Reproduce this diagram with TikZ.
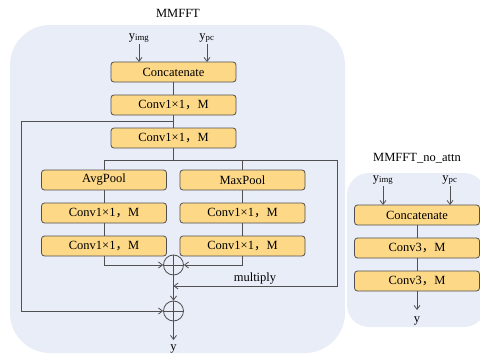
\documentclass[tikz,border=0pt]{standalone}
\usepackage{fontspec}
\setmainfont{Liberation Serif}
\newfontfamily\cjk{Noto Serif CJK SC}
\usetikzlibrary{arrows.meta}
\definecolor{panelbg}{HTML}{E9EDF8}
\definecolor{boxfill}{HTML}{FDD887}
\definecolor{linec}{HTML}{505050}
\tikzset{
  x=1pt,y=-1pt,
  blk/.style={draw=linec,fill=boxfill,rounded corners=3pt,line width=0.8pt,minimum width=125pt,minimum height=20pt,inner sep=0pt,font=\rmfamily\fontsize{12.5}{14}\selectfont},
  conn/.style={draw=linec,line width=0.8pt},
  arr/.style={conn,-{Straight Barb[length=4pt,width=6pt]}},
  opl/.style={circle,draw=linec,line width=0.8pt,minimum size=20pt,inner sep=0pt},
  lab/.style={font=\rmfamily\fontsize{12.5}{14}\selectfont,inner sep=1pt},
}
\newcommand{\cv}[1]{#1{\fontspec{Noto Sans CJK SC}，}M}
\begin{document}
\begin{tikzpicture}
\useasboundingbox (0,0) rectangle (480,356);
\fill[panelbg,rounded corners=40pt] (10,25) rectangle (345,353);
\fill[panelbg,rounded corners=22pt] (347,173) rectangle (486,327);
\node[lab] (t1) at (178,13) {MMFFT};
\node[lab] (t2) at (417,158) {MMFFT\_no\_attn};
% left panel
\node[blk] (cat) at (173.5,72) {Concatenate};
\node[blk] (c1) at (173.5,105) {\cv{Conv1×1}};
\node[blk] (c2) at (173.5,138) {\cv{Conv1×1}};
\node[blk] (avg) at (104,180) {AvgPool};
\node[blk] (max) at (242.5,180) {MaxPool};
\node[blk] (a1) at (104,213) {\cv{Conv1×1}};
\node[blk] (m1) at (242.5,213) {\cv{Conv1×1}};
\node[blk] (a2) at (104,246) {\cv{Conv1×1}};
\node[blk] (m2) at (242.5,246) {\cv{Conv1×1}};
\node[opl] (p1) at (173.5,265) {};
\node[opl] (p2) at (173.5,311) {};
\draw[conn] (p1.north)--(p1.south) (p1.west)--(p1.east);
\draw[conn] (p2.north)--(p2.south) (p2.west)--(p2.east);
\node[lab] (yi) at (139,38) {y\textsubscript{img}};
\node[lab] (yp) at (207,38) {y\textsubscript{pc}};
\node[lab] (y) at (173.5,349) {y};
\node[lab] (mul) at (255,279) {multiply};
\coordinate (yiE) at (139,62);
\coordinate (ypE) at (207,62);
\draw[arr] (yi.south) -- (yiE);
\draw[arr] (yp.south) -- (ypE);
\draw[conn] (cat) -- (c1);
\draw[conn] (c1) -- (c2);
\draw[arr] (173.5,121) -- (21,121) -- (21,311) -- (p2.west);
\draw[conn] (c2.south) -- (173.5,160);
\draw[conn] (104,170) -- (104,160) -- (337,160) -- (337,286) -- (180,286);
\draw[arr] (337,286) -- (173.5,286);
\draw[conn] (242.5,160) -- (max.north);
\draw[conn] (avg) -- (a1);
\draw[conn] (a1) -- (a2);
\draw[conn] (max) -- (m1);
\draw[conn] (m1) -- (m2);
\draw[arr] (a2.south) -- (104,265) -- (p1.west);
\draw[arr] (m2.south) -- (242.5,265) -- (p1.east);
\draw[arr] (p1.south) -- (p2.north);
\draw[arr] (p2.south) -- (173.5,340);
% right panel
\node[blk] (rcat) at (417,215) {Concatenate};
\node[blk] (r1) at (417,248) {\cv{Conv3}};
\node[blk] (r2) at (417,281) {\cv{Conv3}};
\node[lab] (ryi) at (383,180) {y\textsubscript{img}};
\node[lab] (ryp) at (450,180) {y\textsubscript{pc}};
\node[lab] (ry) at (417,321) {y};
\draw[arr] (ryi.south) -- (383,205);
\draw[arr] (ryp.south) -- (450,205);
\draw[conn] (rcat) -- (r1);
\draw[conn] (r1) -- (r2);
\draw[arr] (r2.south) -- (417,310);
\end{tikzpicture}
\end{document}
